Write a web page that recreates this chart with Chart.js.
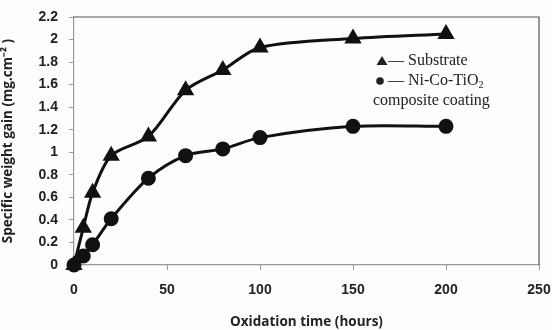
<!DOCTYPE html>
<html><head><meta charset="utf-8">
<script src="https://cdn.jsdelivr.net/npm/chart.js@4/dist/chart.umd.min.js"></script>
<style>html,body{margin:0;padding:0;background:#fdfdfb}#w{width:552px;height:330px}</style>
</head><body><div id="w"><canvas id="c"></canvas></div>
<script>
const hours = [0, 5, 10, 20, 40, 60, 80, 100, 150, 200];
const substrate = [0, 0.33, 0.64, 0.97, 1.14, 1.55, 1.73, 1.93, 2.01, 2.05];
const coating = [0, 0.08, 0.18, 0.41, 0.77, 0.97, 1.03, 1.13, 1.23, 1.23];
const xTitle = 'Oxidation time (hours)';
const yTitle = 'Specific weight gain (mg.cm\u207B\u00B2 )';
const legendSubstrate = '\u2014 Substrate';
const legendCoating = '\u2014 Ni-Co-TiO';
const legendCoating2 = 'composite coating';

const boxPlugin = {
  id: 'box',
  afterDatasetsDraw(chart) {
    const {ctx, chartArea: a} = chart;
    ctx.save();
    ctx.strokeStyle = '#555';
    ctx.lineWidth = 1.2;
    ctx.beginPath();
    ctx.moveTo(a.left, a.top); ctx.lineTo(a.right, a.top); ctx.lineTo(a.right, a.bottom);
    ctx.stroke();
    ctx.fillStyle = '#222';
    ctx.font = '16px "Liberation Serif", serif';
    ctx.textBaseline = 'middle';
    const l1 = 61, l2 = 81, l3 = 101;
    const tx = 382;
    ctx.beginPath(); ctx.moveTo(tx, l1 - 5); ctx.lineTo(tx + 5.5, l1 + 4); ctx.lineTo(tx - 5.5, l1 + 4); ctx.closePath(); ctx.fill();
    ctx.fillText(legendSubstrate, tx + 6, l1);
    const cx = 380;
    ctx.beginPath(); ctx.arc(cx, l2, 3.8, 0, Math.PI * 2); ctx.fill();
    ctx.fillText(legendCoating, cx + 8, l2);
    const w = ctx.measureText(legendCoating).width;
    ctx.font = '10px "Liberation Serif", serif';
    ctx.fillText('2', cx + 8 + w, l2 + 4);
    ctx.font = '16px "Liberation Serif", serif';
    ctx.fillText(legendCoating2, 373, l3);
    ctx.restore();
  }
};

const fmt = v => String(Number(v.toFixed(1)));

new Chart(document.getElementById('c'), {
  type: 'line',
  data: {
    datasets: [
      {label: 'Substrate', data: hours.map((h, i) => ({x: h, y: substrate[i]})),
       borderColor: '#111', backgroundColor: '#111', borderWidth: 3, tension: 0.3, clip: false,
       pointStyle: 'triangle', pointRadius: 7, pointHoverRadius: 7},
      {label: 'Ni-Co-TiO2 composite coating', data: hours.map((h, i) => ({x: h, y: coating[i]})),
       borderColor: '#111', backgroundColor: '#111', borderWidth: 3, tension: 0.3, clip: false,
       pointStyle: 'circle', pointRadius: 6, pointHoverRadius: 6}
    ]
  },
  options: {
    responsive: true, maintainAspectRatio: false, animation: false,
    layout: {padding: {top: 17, right: 13, left: 0, bottom: 0}},
    plugins: {legend: {display: false}, tooltip: {enabled: false}},
    scales: {
      x: {type: 'linear', min: 0, max: 250,
        ticks: {stepSize: 50, color: '#222', font: {family: 'Liberation Sans, Arial', size: 14, weight: 'bold'}, padding: 12},
        grid: {display: true, drawOnChartArea: false, drawTicks: true, tickLength: 5, color: '#999'},
        border: {display: true, color: '#999', width: 1.2},
        title: {display: true, text: xTitle, color: '#222', font: {family: 'Open Sans', size: 13.5, weight: 'bold'}, padding: {top: 6, bottom: 0}},
        afterFit(s) { s.height = 65; s.paddingLeft = 0; s.paddingRight = 0; }
      },
      y: {min: 0, max: 2.2,
        ticks: {stepSize: 0.2, color: '#222', font: {family: 'Liberation Sans, Arial', size: 14, weight: 'bold'}, padding: 11,
          callback: v => fmt(v)},
        grid: {display: true, drawOnChartArea: false, drawTicks: true, tickLength: 5, color: '#999'},
        border: {display: true, color: '#999', width: 1.2},
        title: {display: true, text: yTitle, color: '#222', font: {family: 'Open Sans', size: 13.5, weight: 'bold'}, padding: {top: 0, bottom: 4}},
        afterFit(s) { s.width = 74; s.paddingTop = 0; s.paddingBottom = 0; }
      }
    }
  },
  plugins: [boxPlugin]
});
</script></body></html>
